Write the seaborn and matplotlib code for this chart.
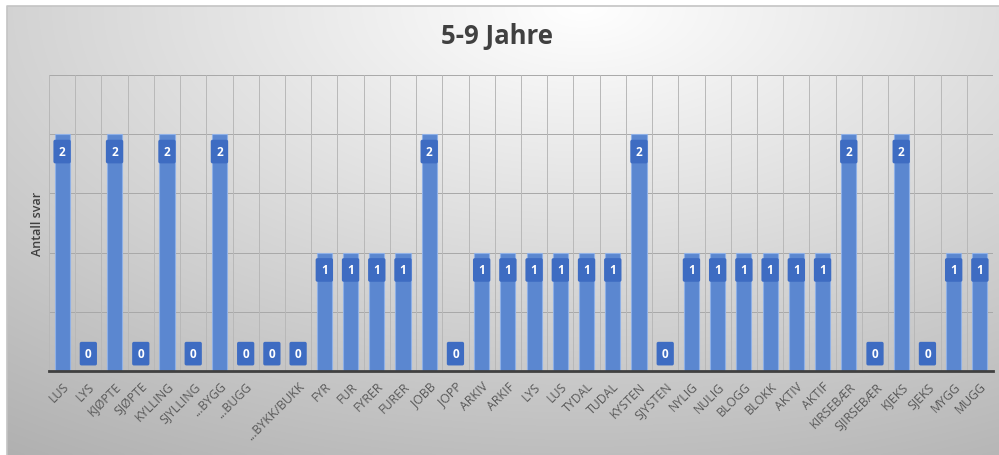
import numpy as np
import pandas as pd
import matplotlib
matplotlib.use("Agg")
import matplotlib.pyplot as plt
import seaborn as sns

categories = ["LUS", "LYS", "KJØPTE", "SJØPTE", "KYLLING", "SJYLLING", "...BYGG", "...BUGG", "",
              "...BYKK/BUKK", "FYR", "FUR", "FYRER", "FURER", "JOBB", "JOPP", "ARKIV", "ARKIF",
              "LYS", "LUS", "TYDAL", "TUDAL", "KYSTEN", "SJYSTEN", "NYLIG", "NULIG", "BLOGG",
              "BLOKK", "AKTIV", "AKTIF", "KIRSEBÆR", "SJIRSEBÆR", "KJEKS", "SJEKS", "MYGG", "MUGG"]
values = [2, 0, 2, 0, 2, 0, 2, 0, 0, 0, 1, 1, 1, 1, 2, 0, 1, 1, 1, 1, 1, 1, 2, 0,
          1, 1, 1, 1, 1, 1, 2, 0, 2, 0, 1, 1]
title = "5-9 Jahre"
ylabel = "Antall svar"

sns.set_theme(style="white")
plt.rcParams['font.family'] = ['Open Sans', 'DejaVu Sans']

W, H = 999, 456
fig = plt.figure(figsize=(W / 100, H / 100), dpi=100)
fig.patch.set_facecolor("white")

# background gradient panel
bg = fig.add_axes([7 / W, 0, 1 - 7 / W, 1 - 7 / H], zorder=-5)
ny, nx = 200, 400
yy, xx = np.mgrid[0:1:ny * 1j, 0:1:nx * 1j]
d = np.sqrt(((xx - 0.58) * 1.0) ** 2 + ((yy - 0.0) * 0.85) ** 2)
g = np.clip(1.0 - 0.3 * d, 0, 1)
img = np.dstack([g, g, g])
bg.imshow(img, aspect="auto", extent=[0, 1, 1, 0], interpolation="bilinear")
bg.set_axis_off()
bg.plot([0, 0, 1], [0, 1, 1], color="#c4c4c4", lw=1.2, transform=bg.transAxes, clip_on=False)

ax = fig.add_axes([49 / W, (H - 372) / H, (993 - 49) / W, (372 - 76) / H])
ax.set_facecolor("none")

df = pd.DataFrame({"idx": np.arange(len(values)), "value": values})
sns.barplot(data=df, x="idx", y="value", color="#5B87D0", width=0.58,
            edgecolor="#8fb0e6", linewidth=0.8, saturation=1, ax=ax, zorder=3)

n = len(values)
ax.set_xlim(-0.5, n - 0.5)
ax.set_ylim(0, 2.5)
ax.set_yticks([0, 0.5, 1, 1.5, 2, 2.5])
ax.set_yticklabels([])
ax.tick_params(axis="y", length=0)
ax.set_xticks(np.arange(n))
ax.set_xticklabels(categories, rotation=45, ha="right", rotation_mode="anchor",
                   fontsize=8.8, color="#595959")
ax.tick_params(axis="x", length=0, pad=6)
ax.set_xlabel("")
ax.set_ylabel(ylabel, fontsize=9, color="#404040", fontweight="semibold")
ax.yaxis.set_label_coords(-5 / 944, 0.5)

for y in [0.5, 1, 1.5, 2, 2.5]:
    ax.axhline(y, color="#a8a8a8", lw=0.7, zorder=1)
for xb in np.arange(-0.5, n, 1.0):
    ax.axvline(xb, color="#b8b8b8", lw=0.7, zorder=1)

for s in ["top", "right", "left"]:
    ax.spines[s].set_visible(False)
ax.spines["bottom"].set_color("#404040")
ax.spines["bottom"].set_linewidth(2)
ax.spines["bottom"].set_zorder(5)

for i, v in enumerate(values):
    off = -12.5 if v > 0 else 12.5
    ax.annotate(str(v), (i, v), xytext=(0, off), textcoords="offset points",
                ha="center", va="center", fontsize=8.5, fontweight="bold", color="white",
                zorder=6,
                bbox=dict(boxstyle="round,pad=0.45,rounding_size=0.15",
                          fc="#3E6CC2", ec="none"))

fig.text(0.497, 1 - 37 / H, title, ha="center", va="center", fontsize=18.5,
         fontweight="bold", color="#404040")

fig.savefig("out.png", dpi=100)
